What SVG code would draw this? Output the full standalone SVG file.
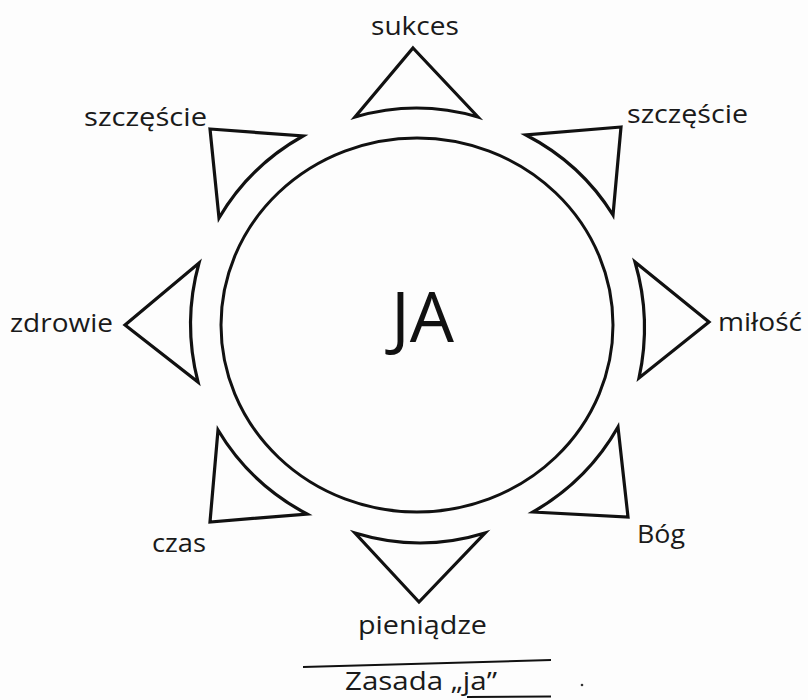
<svg xmlns="http://www.w3.org/2000/svg" width="808" height="700" viewBox="0 0 808 700">
  <defs>
    <style>
      .shape { fill: none; stroke: #111; stroke-width: 3.2; stroke-linejoin: miter; }
      .ring { fill: none; stroke: #111; stroke-width: 3; }
      .lbl { font-family: "Open Sans", "Noto Sans", sans-serif; font-size: 26px; fill: #1a1a1a; }
      .big { font-family: "Open Sans", "Noto Sans", sans-serif; font-size: 70px; fill: #111; }
      .rule { stroke: #111; stroke-width: 2; }
    </style>
  </defs>
  <rect x="0" y="0" width="808" height="700" fill="#fdfdfd"/>

  <g id="ja">
    <ellipse class="ring" cx="417" cy="325" rx="196" ry="187"/>
    <text class="big" x="391" y="342">JA</text>
  </g>

  <g id="connectors"></g>

  <g id="sukces">
    <path class="shape" d="M413,48 L478,117 Q416.5,99 355,117 Z"/>
    <text class="lbl" x="371" y="35" textLength="88" lengthAdjust="spacingAndGlyphs">sukces</text>
  </g>

  <g id="szczescie-left">
    <path class="shape" d="M210,129 L303,136 Q249.4,166 219,218 Z"/>
    <text class="lbl" x="84" y="126" textLength="123" lengthAdjust="spacingAndGlyphs">szczęście</text>
  </g>

  <g id="szczescie-right">
    <path class="shape" d="M621,127 L526,135 Q581.1,163.6 613,215 Z"/>
    <text class="lbl" x="627" y="123" textLength="121" lengthAdjust="spacingAndGlyphs">szczęście</text>
  </g>

  <g id="zdrowie">
    <path class="shape" d="M125,325 L199,263 Q182.5,322.3 198,382 Z"/>
    <text class="lbl" x="10" y="332" textLength="103" lengthAdjust="spacingAndGlyphs">zdrowie</text>
  </g>

  <g id="milosc">
    <path class="shape" d="M709,322 L635,262 Q651.8,319.6 639,378 Z"/>
    <text class="lbl" x="718" y="331" textLength="84" lengthAdjust="spacingAndGlyphs">miłość</text>
  </g>

  <g id="czas">
    <path class="shape" d="M210,522 L218,430 Q250.1,483.8 307,514 Z"/>
    <text class="lbl" x="152" y="552" textLength="54" lengthAdjust="spacingAndGlyphs">czas</text>
  </g>

  <g id="bog">
    <path class="shape" d="M628,517 L618,427 Q587.7,480.5 533,512 Z"/>
    <text class="lbl" x="637" y="543" textLength="48" lengthAdjust="spacingAndGlyphs">Bóg</text>
  </g>

  <g id="pieniadze">
    <path class="shape" d="M419,602 L355,533 Q420.2,553 485,533 Z"/>
    <text class="lbl" x="358" y="634" textLength="129" lengthAdjust="spacingAndGlyphs">pieniądze</text>
  </g>

  <g id="caption">
    <line class="rule" x1="303" y1="667" x2="551" y2="660"/>
    <text class="lbl" x="345" y="690" font-size="25" textLength="152" lengthAdjust="spacingAndGlyphs">Zasada „ja”</text>
    <line class="rule" x1="467" y1="697" x2="551" y2="696.5"/>
    <circle cx="582" cy="685" r="1.3" fill="#333"/>
  </g>
</svg>
